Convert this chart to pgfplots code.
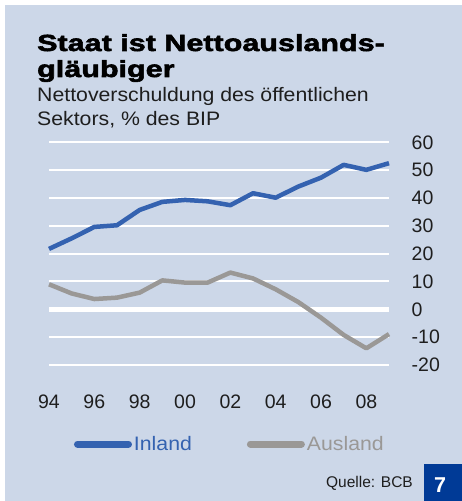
\documentclass[border=0pt]{standalone}
\usepackage{fontspec}
\setmainfont{Liberation Sans}
\newfontfamily\widefont[FakeStretch=1.09]{Liberation Sans}
\newfontfamily\plainfont{Liberation Sans}
\newfontfamily\titlefont[FakeStretch=1.31,BoldFeatures={FakeBold=2.5}]{Liberation Sans}
\usepackage{pgfplots}
\pgfplotsset{compat=1.18}
\definecolor{bg}{HTML}{CCD7E8}
\definecolor{inland}{HTML}{3462B0}
\definecolor{ausland}{HTML}{9A9896}
\definecolor{boxblue}{HTML}{003A96}
\definecolor{txt}{HTML}{1E1E1E}

\pgfplotstableread{
year inland ausland
1994 21.7 9.0
1995 25.5 5.7
1996 29.6 3.7
1997 30.2 4.2
1998 35.7 6.0
1999 38.6 10.4
2000 39.3 9.6
2001 38.8 9.6
2002 37.4 13.2
2003 41.7 11.1
2004 40.1 7.2
2005 44.1 2.6
2006 47.3 -3.0
2007 51.9 -9.2
2008 50.1 -14.0
2009 52.5 -8.9
}\datatable

\begin{document}
\begin{tikzpicture}[x=1bp,y=1bp]
\useasboundingbox (0,0) rectangle (462,-501);
\fill[white] (0,0) rectangle (462,-501);
\fill[bg] (5,-5) rectangle (462,-501);
\node[anchor=base west, inner sep=0pt, text=black] at (37,-51) {\titlefont\bfseries\fontsize{23.3bp}{26bp}\selectfont Staat ist Nettoauslands-};
\node[anchor=base west, inner sep=0pt, text=black] at (37,-77) {\titlefont\bfseries\fontsize{23.3bp}{26bp}\selectfont gläubiger};
\node[anchor=base west, inner sep=0pt, text=txt] at (37,-101.5) {\widefont\fontsize{19.5bp}{22bp}\selectfont Nettoverschuldung des öffentlichen};
\node[anchor=base west, inner sep=0pt, text=txt] at (37,-125.5) {\widefont\fontsize{19.5bp}{22bp}\selectfont Sektors, \% des BIP};

\begin{axis}[
  at={(49bp,-365bp)}, anchor=south west,
  scale only axis, width=340bp, height=222.7bp,
  xmin=1994, xmax=2009, ymin=-20, ymax=60,
  axis line style={draw=none}, major tick length=0pt,
  xtick={1994,1996,...,2008}, xticklabels={94,96,98,00,02,04,06,08},
  ytick={-20,-10,0,10,20,30,40,50,60},
  yticklabels={-20,-10,0,10,20,30,40,50,60},
  yticklabel pos=right,
  ymajorgrids, grid style={white, line width=2bp},
  xticklabel style={anchor=base, inner sep=0pt, yshift=-43bp, text=txt, font=\plainfont\fontsize{19.5bp}{20bp}\selectfont},
  yticklabel style={anchor=west, inner sep=0pt, xshift=22.5bp, text=txt, font=\plainfont\fontsize{19.5bp}{20bp}\selectfont},
  clip=false,
  legend columns=2,
  legend style={at={(0.0735,-0.3547)}, anchor=west, draw=none, fill=none,
    inner sep=0pt, outer sep=0pt,
    nodes={inner sep=0pt, font=\widefont\fontsize{19.5bp}{20bp}\selectfont},
    /tikz/every odd column/.append style={column sep=2bp},
    /tikz/every even column/.append style={column sep=55bp}},
  legend image code/.code={\draw[#1, line width=7bp, line cap=round] (3.5bp,0bp) -- (54.5bp,0bp);},
]
\addplot[white, line width=5bp, forget plot] coordinates {(1994,0) (2009,0)};
\addplot[inland, line width=4.5bp, line join=round] table[x=year, y=inland] {\datatable};
\addlegendentry[text=inland]{Inland}
\addplot[ausland, line width=4.5bp, line join=round] table[x=year, y=ausland] {\datatable};
\addlegendentry[text=ausland]{Ausland}
\end{axis}

\node[anchor=base east, inner sep=0pt, text=txt] at (413,-487.3) {\plainfont\fontsize{15.5bp}{16bp}\selectfont Quelle: BCB};
\fill[boxblue] (424,-464) rectangle (462,-501);
\node[anchor=base, inner sep=0pt, text=white] at (440,-492.7) {\plainfont\bfseries\fontsize{21.5bp}{22bp}\selectfont 7};
\end{tikzpicture}
\end{document}
